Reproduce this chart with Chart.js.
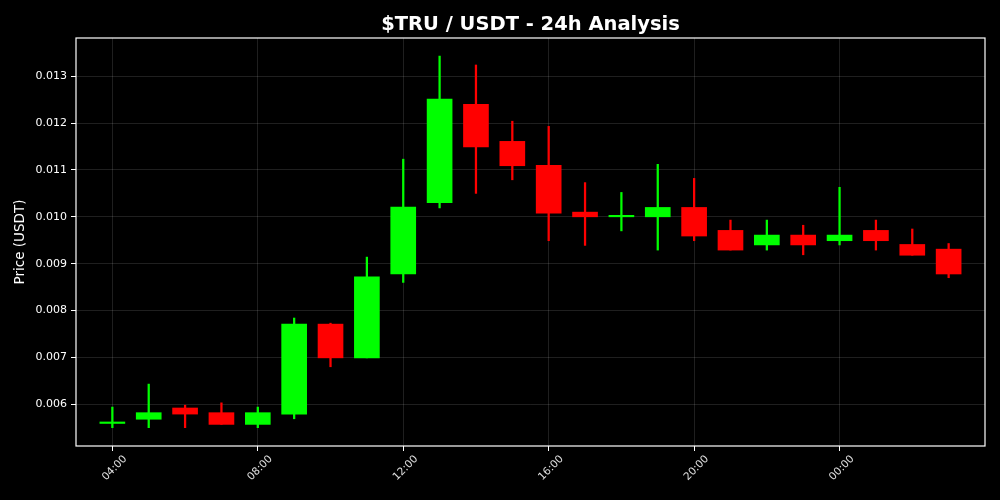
<!DOCTYPE html>
<html>
<head>
<meta charset="utf-8">
<script src="https://cdn.jsdelivr.net/npm/chart.js@4"></script>
<style>
  html, body { margin: 0; padding: 0; background: #000; }
  canvas { display: block; }
</style>
</head>
<body>
<canvas id="chart" width="1000" height="500"></canvas>
<script>
const times = ["04:00", "05:00", "06:00", "07:00", "08:00", "09:00", "10:00", "11:00",
  "12:00", "13:00", "14:00", "15:00", "16:00", "17:00", "18:00", "19:00",
  "20:00", "21:00", "22:00", "23:00", "00:00", "01:00", "02:00", "03:00"];

const open = [0.00559, 0.00568, 0.00592, 0.00582, 0.00557, 0.00579, 0.00771, 0.00699,
  0.00878, 0.01030, 0.01240, 0.01161, 0.01110, 0.01010, 0.01000, 0.01000,
  0.01020, 0.00971, 0.00940, 0.00961, 0.00949, 0.00971, 0.00941, 0.00931];
const high = [0.00594, 0.00643, 0.00598, 0.00603, 0.00594, 0.00784, 0.00773, 0.00914,
  0.01123, 0.01343, 0.01324, 0.01204, 0.01193, 0.01073, 0.01052, 0.01112,
  0.01082, 0.00993, 0.00993, 0.00982, 0.01063, 0.00993, 0.00974, 0.00943];
const low = [0.00550, 0.00550, 0.00550, 0.00557, 0.00550, 0.00569, 0.00680, 0.00699,
  0.00860, 0.01019, 0.01050, 0.01079, 0.00949, 0.00939, 0.00970, 0.00929,
  0.00949, 0.00929, 0.00929, 0.00919, 0.00940, 0.00929, 0.00918, 0.00870];
const close = [0.00559, 0.00582, 0.00579, 0.00557, 0.00582, 0.00771, 0.00699, 0.00872,
  0.01021, 0.01251, 0.01149, 0.01109, 0.01008, 0.01000, 0.01001, 0.01020,
  0.00959, 0.00929, 0.00961, 0.00940, 0.00961, 0.00949, 0.00918, 0.00878];

const xTicks = [0, 4, 8, 12, 16, 20];
const yTicks = [0.006, 0.007, 0.008, 0.009, 0.010, 0.011, 0.012, 0.013];

const UP = "#00ff00";
const DOWN = "#ff0000";
const colors = open.map((o, i) => (close[i] >= o ? UP : DOWN));

// frame round the plot + title centred on the plot area
const framePlugin = {
  id: "frame",
  afterDraw(chart) {
    const { ctx, chartArea: a } = chart;
    ctx.save();
    ctx.strokeStyle = "#ffffff";
    ctx.lineWidth = 1.2;
    ctx.strokeRect(a.left, a.top, a.right - a.left, a.bottom - a.top);
    ctx.fillStyle = "#ffffff";
    ctx.font = "bold 19.5px 'DejaVu Sans'";
    ctx.textAlign = "center";
    ctx.textBaseline = "alphabetic";
    ctx.fillText("$TRU / USDT - 24h Analysis", (a.left + a.right) / 2, 30);
    ctx.restore();
  },
};

const bg = {
  id: "bg",
  beforeDraw(chart) {
    const { ctx, width, height } = chart;
    ctx.save();
    ctx.fillStyle = "#000";
    ctx.fillRect(0, 0, width, height);
    ctx.restore();
  },
};

new Chart(document.getElementById("chart"), {
  type: "bar",
  data: {
    datasets: [
      {
        label: "body",
        data: times.map((t, i) => ({ x: i, y: [open[i], close[i]] })),
        backgroundColor: colors,
        borderWidth: 0,
        barThickness: 25,
        minBarLength: 1.5,
        grouped: false,
        order: 0,
      },
      {
        label: "wick",
        data: times.map((t, i) => ({ x: i, y: [low[i], high[i]] })),
        backgroundColor: colors,
        borderWidth: 0,
        barThickness: 1.6,
        grouped: false,
        order: 1,
      },
    ],
  },
  options: {
    responsive: false,
    animation: false,
    devicePixelRatio: 1,
    layout: { padding: { top: 38, right: 15, left: 0, bottom: 0 } },
    plugins: {
      legend: { display: false },
      tooltip: { enabled: false },
      title: { display: false },
    },
    scales: {
      x: {
        type: "linear",
        offset: false,
        min: -1,
        max: 24,
        afterBuildTicks: (s) => { s.ticks = xTicks.map((v) => ({ value: v })); },
        afterFit: (s) => { s.height = 54; },
        ticks: {
          color: "#e0e0e0",
          font: { family: "DejaVu Sans", size: 10.5 },
          minRotation: 45,
          maxRotation: 45,
          labelOffset: 13,
          padding: 2,
          callback: (v) => times[v],
        },
        grid: { offset: false, color: "rgba(255,255,255,0.12)", tickColor: "#ffffff", tickLength: 5 },
        border: { display: false },
      },
      y: {
        min: 0.005109,
        max: 0.013816,
        afterBuildTicks: (s) => { s.ticks = yTicks.map((v) => ({ value: v })); },
        afterFit: (s) => { s.width = 76; },
        ticks: {
          color: "#ffffff",
          font: { family: "DejaVu Sans", size: 11 },
          padding: 4,
          callback: (v) => v.toFixed(3),
        },
        title: {
          display: true,
          text: "Price (USDT)",
          color: "#ffffff",
          font: { family: "DejaVu Sans", size: 13.5 },
          padding: { top: 12, bottom: 0 },
        },
        grid: { color: "rgba(255,255,255,0.12)", tickColor: "#ffffff", tickLength: 5 },
        border: { display: false },
      },
    },
  },
  plugins: [bg, framePlugin],
});
</script>
</body>
</html>
